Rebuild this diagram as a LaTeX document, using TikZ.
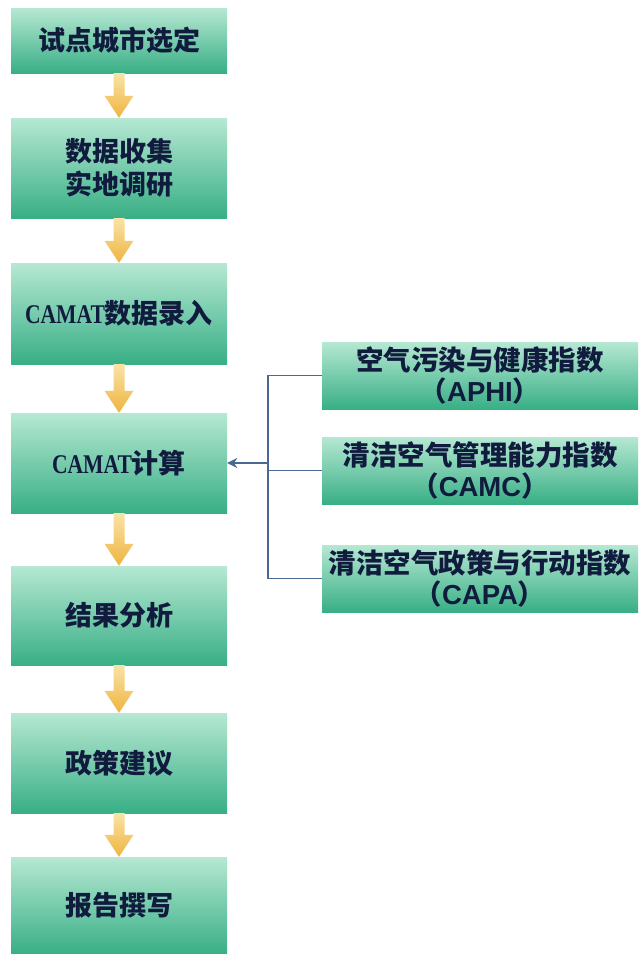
\documentclass[tikz,border=0pt]{standalone}
\usepackage{fontspec}
\usetikzlibrary{calc,arrows.meta}
\newfontfamily\cjk{Noto Sans CJK SC}
\newfontfamily\lser{Liberation Serif}
\newfontfamily\lsans{Liberation Sans}
\definecolor{mintT}{HTML}{B6E8D3}
\definecolor{mintB}{HTML}{38AF85}
\definecolor{yelT}{HTML}{F9E3A6}
\definecolor{yelB}{HTML}{EFB440}
\definecolor{txt}{HTML}{101B3E}
\definecolor{conn}{HTML}{4A6894}
\newcommand{\cam}{{\lser\bfseries\scalebox{0.8}[1]{CAMAT}}}
\tikzset{
  gbox/.style={rectangle, inner sep=0pt, draw=none, top color=mintT, bottom color=mintB,
    text=txt, font=\cjk\bfseries\fontsize{27}{33}\selectfont, align=center},
  lbox/.style={gbox, minimum width=216pt},
  rbox/.style={gbox, minimum width=316pt, minimum height=67pt, font=\cjk\bfseries\fontsize{27.5}{31}\selectfont},
  yarrow/.style={top color=yelT, bottom color=yelB, draw=none},
  connline/.style={draw=conn, line width=1.4pt},
}
\newcommand{\yarr}[2]{%
  \path[yarrow] let \p1=(#1.south), \p2=(#2.north) in
    (\x1-5.5pt,\y1) -- (\x1+5.5pt,\y1) -- (\x1+5.5pt,\y2+22pt) -- (\x1+14.5pt,\y2+22pt)
    -- (\x1,\y2) -- (\x1-14.5pt,\y2+22pt) -- (\x1-5.5pt,\y2+22pt) -- cycle;}
\begin{document}
\begin{tikzpicture}[x=1pt,y=-1pt]
\useasboundingbox (0,0) rectangle (638,954);
\fill[white] (0,0) rectangle (638,954);
% left column
\node[lbox, minimum height=65pt] (b1) at (119,40.5) {试点城市选定};
\node[lbox, minimum height=100pt] (b2) at (119,168) {数据收集\\实地调研};
\node[lbox, minimum height=101pt] (b3) at (119,313.5) {\cam 数据录入};
\node[lbox, minimum height=100pt] (b4) at (119,463) {\cam 计算};
\node[lbox, minimum height=99pt] (b5) at (119,615.5) {结果分析};
\node[lbox, minimum height=100pt] (b6) at (119,763) {政策建议};
\node[lbox, minimum height=97pt] (b7) at (119,905.5) {报告撰写};
\yarr{b1}{b2}
\yarr{b2}{b3}
\yarr{b3}{b4}
\yarr{b4}{b5}
\yarr{b5}{b6}
\yarr{b6}{b7}
% right column
\node[rbox] (ra) at (480,375.5) {空气污染与健康指数\\（{\lsans\bfseries APHI}）};
\node[rbox] (rb) at (480,470.5) {清洁空气管理能力指数\\（{\lsans\bfseries CAMC}）};
\node[rbox] (rc) at (480,578.5) {清洁空气政策与行动指数\\（{\lsans\bfseries CAPA}）};
% connectors
\draw[connline] (ra.west) -- ++(-54,0) coordinate (ta) |- (rc.west);
\draw[connline] (rb.west) -- (rb.west -| ta);
\draw[connline, -{Stealth[length=10pt,width=10pt]}] (ta |- b4.east) -- (b4.east);
\end{tikzpicture}
\end{document}
